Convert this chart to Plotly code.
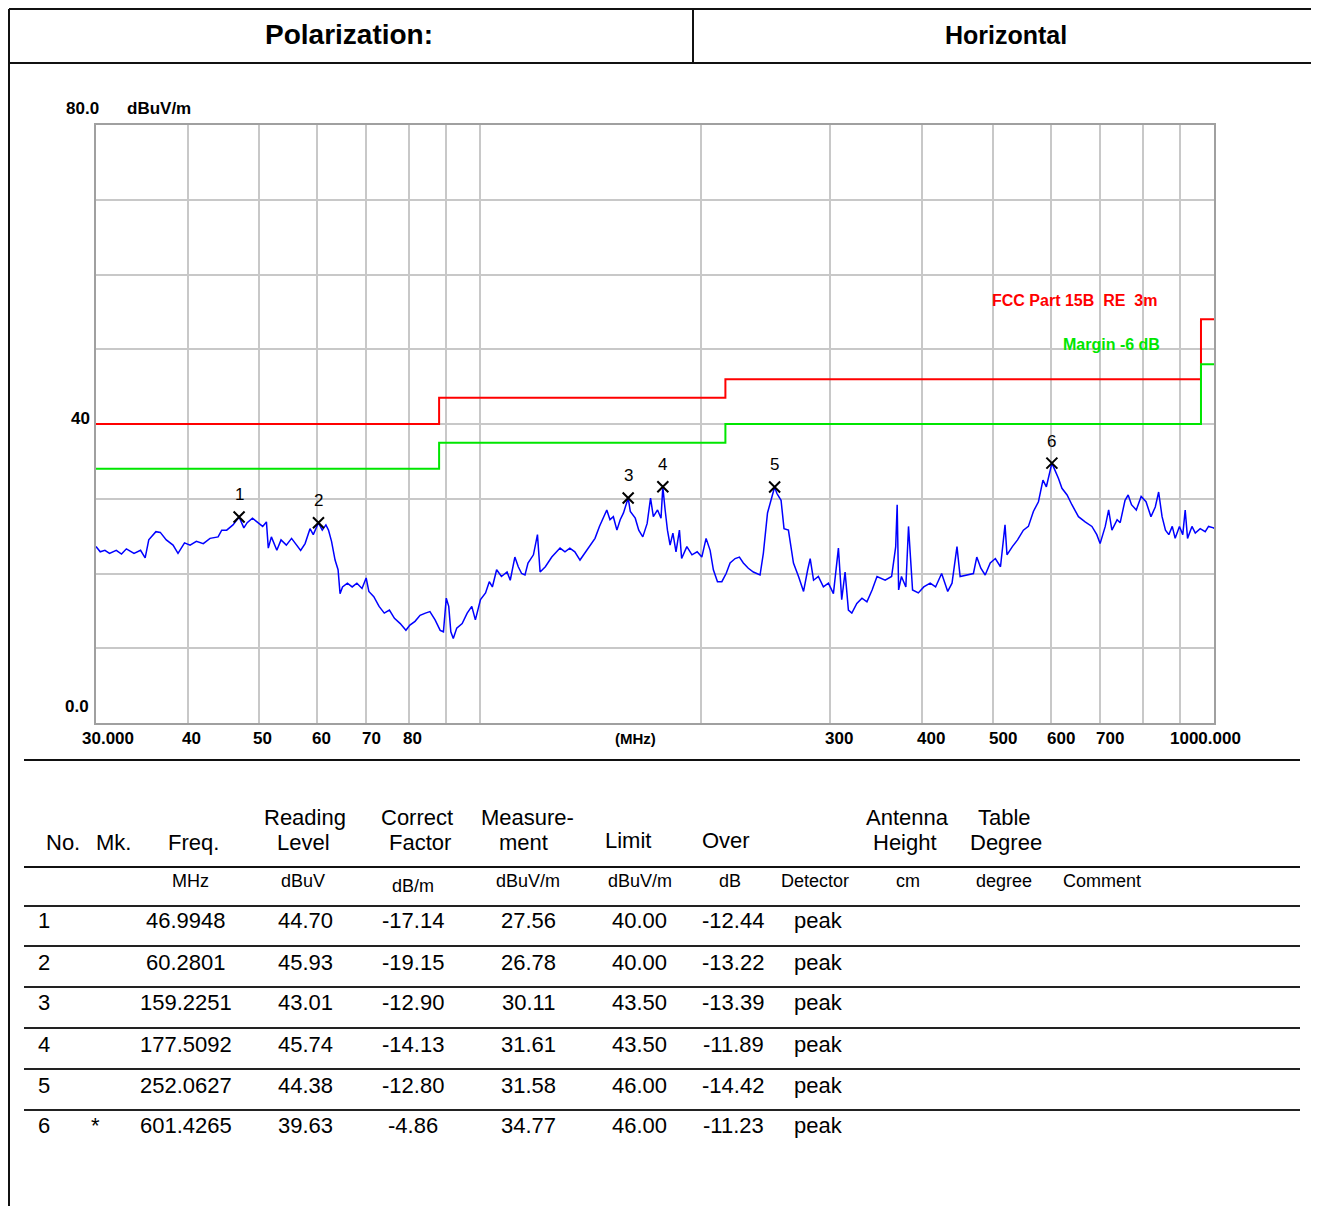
import numpy as np
import plotly.graph_objects as go

# ---------------- data ----------------
trace_freq = [30.0, 30.4, 30.85, 31.3, 31.97, 32.5, 33.0, 33.8, 34.5, 35.0, 35.4, 36.2, 36.7, 37.4, 38.2,
              38.8, 39.6, 40.3, 41.1, 42.0, 42.9, 44.0, 44.5, 45.2, 46.1, 46.99, 47.7, 48.2, 49.0, 49.8,
              50.6, 51.2, 51.5, 52.0, 52.9, 53.6, 54.5, 55.4, 56.3, 57.0, 57.8, 58.7, 59.3, 60.28, 61.0,
              61.7, 62.2, 62.8, 63.5, 64.1, 64.5, 65.0, 66.0, 67.0, 68.0, 69.1, 70.0, 70.6, 71.7, 72.9,
              74.1, 75.3, 76.5, 77.9, 79.3, 80.3, 81.6, 82.9, 84.3, 85.5, 86.9, 88.3, 89.2, 90.0, 90.7,
              91.3, 92.0, 93.0, 94.6, 96.1, 97.5, 98.6, 100.2, 101.8, 103.0, 104.0, 105.4, 107.0, 108.9,
              110.0, 111.6, 112.8, 114.0, 115.2, 116.3, 118.3, 119.8, 120.8, 122.8, 125.3, 128.6, 130.6,
              132.6, 134.7, 136.9, 139.0, 141.2, 143.5, 145.5, 147.3, 148.9, 150.4, 152.0, 153.7, 155.3,
              156.9, 159.23, 160.3, 162.8, 164.6, 166.7, 169.0, 170.8, 172.3, 174.6, 176.5, 177.51, 178.8,
              180.1, 181.6, 183.2, 185.0, 187.0, 188.3, 191.4, 194.5, 197.7, 200.6, 203.3, 205.9, 208.0,
              210.7, 213.6, 216.5, 219.2, 222.7, 225.7, 228.5, 232.1, 235.8, 240.8, 243.3, 246.5, 252.06,
              253.9, 257.2, 259.6, 263.2, 267.4, 271.7, 276.0, 279.6, 281.8, 284.8, 289.1, 293.7, 298.4,
              303.1, 307.9, 311.1, 314.4, 317.7, 321.1, 326.2, 331.5, 336.7, 342.2, 347.5, 356.5, 363.8,
              368.5, 370.2, 371.9, 375.2, 380.4, 383.6, 385.5, 388.5, 395.6, 402.4, 410.6, 417.6, 425.6,
              433.8, 439.7, 446.6, 451.0, 460.4, 470.2, 475.2, 481.3, 487.9, 495.7, 503.7, 511.9, 519.2,
              522.4, 531.3, 540.0, 550.0, 558.7, 567.5, 576.6, 584.8, 591.1, 601.43, 607.6, 614.0, 620.7,
              630.8, 640.4, 653.7, 667.5, 681.9, 692.4, 699.6, 711.0, 718.6, 726.0, 738.0, 745.1, 756.5,
              764.0, 772.0, 783.7, 795.7, 808.0, 820.6, 831.8, 840.6, 849.7, 858.8, 867.9, 877.3, 885.3,
              897.3, 906.7, 913.6, 920.4, 933.2, 943.0, 957.6, 972.8, 983.0, 998.4, 1000.0]
trace_level = [23.6, 22.9, 23.1, 22.7, 23.1, 22.6, 23.3, 22.7, 23.1, 22.1, 24.5, 25.6, 25.5, 24.5, 23.8,
               22.7, 24.1, 23.8, 24.3, 24.0, 24.7, 24.9, 25.8, 25.8, 26.5, 27.56, 26.1, 26.8, 27.4, 26.8,
               26.3, 26.9, 23.4, 24.9, 23.1, 24.5, 23.8, 24.7, 23.8, 23.1, 24.0, 26.0, 25.2, 26.78, 25.8,
               26.5, 25.8, 24.3, 21.8, 20.5, 17.3, 18.2, 18.7, 18.2, 18.7, 18.0, 19.4, 17.6, 16.9, 15.6,
               14.7, 15.1, 14.0, 13.3, 12.4, 13.1, 13.6, 14.4, 14.7, 14.9, 13.8, 12.4, 12.2, 16.7, 15.6,
               12.2, 11.3, 12.7, 13.3, 14.7, 15.6, 13.8, 16.5, 17.4, 18.9, 18.2, 20.5, 19.6, 20.2,
               19.1, 22.2, 20.9, 20.0, 19.8, 21.4, 22.5, 25.2, 20.2, 20.9, 22.2, 23.4, 22.9,
               23.4, 22.9, 21.8, 22.7, 23.6, 24.7, 26.3, 27.6, 28.5, 27.2, 27.6, 25.8, 27.2,
               28.1, 30.11, 28.3, 27.4, 25.8, 24.9, 26.7, 30.1, 27.6, 28.5, 27.4, 31.61, 28.5,
               25.8, 23.8, 25.4, 22.9, 25.8, 22.0, 23.6, 22.5, 22.9, 22.2, 24.7, 23.1, 20.5,
               18.9, 18.9, 20.0, 21.4, 22.0, 22.2, 21.4, 20.7, 20.2, 19.8, 22.7, 28.1, 31.58,
               30.7, 29.8, 26.0, 25.8, 21.4, 19.6, 17.6, 20.5, 22.0, 19.1, 19.6, 18.2, 18.7,
               17.3, 23.4, 16.5, 20.2, 15.1, 14.7, 16.0, 16.7, 16.2, 17.8, 19.6, 19.1, 19.6,
               23.6, 29.2, 17.8, 19.6, 18.2, 26.3, 22.7, 17.8, 17.4, 18.2, 18.7, 18.2, 20.0,
               17.6, 18.7, 23.6, 19.6, 19.8, 20.0, 22.2, 20.7, 19.8, 21.4, 22.0, 20.9, 26.5,
               22.5, 23.6, 24.5, 25.8, 26.3, 28.3, 29.6, 32.5, 31.6, 34.77, 33.8, 32.7, 31.4,
               30.5, 29.2, 27.6, 26.9, 26.3, 25.2, 24.0, 26.3, 28.5, 25.8, 27.2, 26.8, 29.8,
               30.5, 29.2, 28.5, 30.3, 29.6, 27.6, 28.9, 30.9, 27.6, 25.8, 25.2, 26.3, 24.7,
               26.3, 25.2, 28.5, 24.7, 26.3, 25.4, 26.0, 25.6, 26.3, 26.1, 26.0]

limit_freq = [30, 88, 216, 960, 1000]
limit_level = [40.0, 43.5, 46.0, 54.0, 54.0]
margin_db = -6

# table of marked peaks
row_no = ["1", "2", "3", "4", "5", "6"]
row_mk = ["", "", "", "", "", "*"]
freq = [46.9948, 60.2801, 159.2251, 177.5092, 252.0627, 601.4265]
reading = [44.70, 45.93, 43.01, 45.74, 44.38, 39.63]
factor = [-17.14, -19.15, -12.90, -14.13, -12.80, -4.86]
measurement = [27.56, 26.78, 30.11, 31.61, 31.58, 34.77]
limit = [40.00, 40.00, 43.50, 43.50, 46.00, 46.00]
over = [-12.44, -13.22, -13.39, -11.89, -14.42, -11.23]
detector = ["peak"] * 6

x_grid = [40, 50, 60, 70, 80, 90, 100, 200, 300, 400, 500, 600, 700, 800, 900]
x_label_vals = [30, 40, 50, 60, 70, 80, 300, 400, 500, 600, 700, 1000]
x_label_text = ["30.000", "40", "50", "60", "70", "80", "300", "400", "500", "600", "700", "1000.000"]

# ---------------- layout helpers ----------------
OFF = 8                      # page body margin
W, H = 1319 - 2 * OFF, 1214 - 2 * OFF
FONT = "Liberation Sans, Arial, sans-serif"


def px(x):
    return (x - OFF) / W


def py(y):
    return 1 - (y - OFF) / H


fig = go.Figure()

fig.add_trace(go.Scatter(x=trace_freq, y=trace_level, mode="lines",
                         line=dict(color="#0000ff", width=1.5), showlegend=False, hoverinfo="skip"))
fig.add_trace(go.Scatter(x=limit_freq, y=limit_level, mode="lines", line_shape="hv",
                         line=dict(color="#ff0000", width=2), showlegend=False))
fig.add_trace(go.Scatter(x=limit_freq, y=[v + margin_db for v in limit_level], mode="lines", line_shape="hv",
                         line=dict(color="#00e600", width=2), showlegend=False))
fig.add_trace(go.Scatter(x=freq, y=measurement, mode="markers",
                         marker=dict(symbol="x-thin", size=11, color="black", line=dict(width=2, color="black")),
                         showlegend=False))

ann = []


def text(t, x, y, size, color="black", bold=False, xanchor="center"):
    ann.append(dict(x=px(x), y=py(y), xref="paper", yref="paper", text=t, showarrow=False,
                    xanchor=xanchor, yanchor="middle",
                    font=dict(family=FONT, size=size, color=color, weight="bold" if bold else "normal")))


# marker numbers
for n, f, m in zip(row_no, freq, measurement):
    ann.append(dict(x=np.log10(f), y=m, xref="x", yref="y", text=n, showarrow=False, yshift=22,
                    xanchor="center", yanchor="middle",
                    font=dict(family=FONT, size=17, color="black")))

# x labels
x_shifts = [12, 4, 4, 4, 5, 4, 9, 9, 10, 10, 10, -9]
for v, t, s in zip(x_label_vals, x_label_text, x_shifts):
    ann.append(dict(x=np.log10(v), y=py(738), xref="x", yref="paper", text=t, showarrow=False, xshift=s,
                    xanchor="center", yanchor="middle",
                    font=dict(family=FONT, size=17, color="black", weight="bold")))
text("(MHz)", 635, 738, 15, bold=True)

# y labels
text("80.0", 82, 108, 17, bold=True)
text("dBuV/m", 159, 108, 17, bold=True)
text("40", 80, 419, 17, bold=True)
text("0.0", 77, 706, 17, bold=True)

# limit labels
text("FCC Part 15B  RE  3m", 1159, 300, 16, color="#ff0000", bold=True, xanchor="right")
text("Margin -6 dB", 1162, 344, 16, color="#00e600", bold=True, xanchor="right")

# header table
text("Polarization:", 349, 34, 28, bold=True)
text("Horizontal", 1006, 35, 25, bold=True)

# data table headers
hdr = [("No.", 63, 842), ("Mk.", 113, 842), ("Freq.", 193, 842),
       ("Reading", 305, 817), ("Level", 303, 842), ("Correct", 417, 817), ("Factor", 420, 842),
       ("Measure-", 527, 817), ("ment", 523, 842), ("Limit", 628, 840), ("Over", 726, 840),
       ("Antenna", 907, 817), ("Height", 905, 842), ("Table", 1004, 817), ("Degree", 1006, 842)]
for t, xx, yy in hdr:
    text(t, xx, yy, 22)
units = [("MHz", 190, 881), ("dBuV", 303, 881), ("dB/m", 413, 886), ("dBuV/m", 528, 881),
         ("dBuV/m", 640, 881), ("dB", 730, 881), ("Detector", 815, 881), ("cm", 908, 881),
         ("degree", 1004, 881), ("Comment", 1102, 881)]
for t, xx, yy in units:
    text(t, xx, yy, 18)

row_y = [920, 962, 1002, 1044, 1085, 1125]
line_y = [906, 946, 987, 1028, 1069, 1110]
for i in range(6):
    cells = [(row_no[i], 36, "left"), (row_mk[i], 95, "center"), (f"{freq[i]:.4f}", 186, "center"),
             (f"{reading[i]:.2f}", 305, "center"), (f"{factor[i]:.2f}", 413, "center"),
             (f"{measurement[i]:.2f}", 528, "center"), (f"{limit[i]:.2f}", 639, "center"),
             (f"{over[i]:.2f}", 733, "center"), (detector[i], 818, "center")]
    for t, xx, anc in cells:
        if t:
            text(t, xx, row_y[i], 22, xanchor=anc)

shapes = []


def hline(y, x0, x1, w=2, c="#111111"):
    shapes.append(dict(type="line", xref="paper", yref="paper", x0=px(x0), x1=px(x1), y0=py(y), y1=py(y),
                       line=dict(color=c, width=w)))


def vline(x, y0, y1, w=2, c="#111111"):
    shapes.append(dict(type="line", xref="paper", yref="paper", x0=px(x), x1=px(x), y0=py(y0), y1=py(y1),
                       line=dict(color=c, width=w)))


# outer report frame (kept just inside the drawable page area)
hline(9, 9, 1319)
hline(63, 9, 1319)
vline(693, 9, 63)
vline(9, 9, 1214)
hline(760, 24, 1300)
hline(867, 24, 1300)
for ly in line_y:
    hline(ly, 24, 1300, w=2, c="#222222")

fig.update_layout(
    width=W, height=H, autosize=False,
    margin=dict(l=0, r=0, t=0, b=0),
    paper_bgcolor="white", plot_bgcolor="white",
    showlegend=False,
    annotations=ann, shapes=shapes,
    xaxis=dict(type="log", range=[np.log10(30), 3], domain=[px(96), px(1214)],
               tickvals=x_grid, showticklabels=False, ticks="",
               showgrid=True, gridcolor="#c8c8c8", gridwidth=1.5,
               showline=True, mirror=True, linecolor="#a0a0a0", linewidth=2, zeroline=False),
    yaxis=dict(range=[0, 80], domain=[py(723), py(125)], dtick=10, showticklabels=False, ticks="",
               showgrid=True, gridcolor="#c8c8c8", gridwidth=1.5,
               showline=True, mirror=True, linecolor="#a0a0a0", linewidth=2, zeroline=False),
)

fig.write_html("out.html")
